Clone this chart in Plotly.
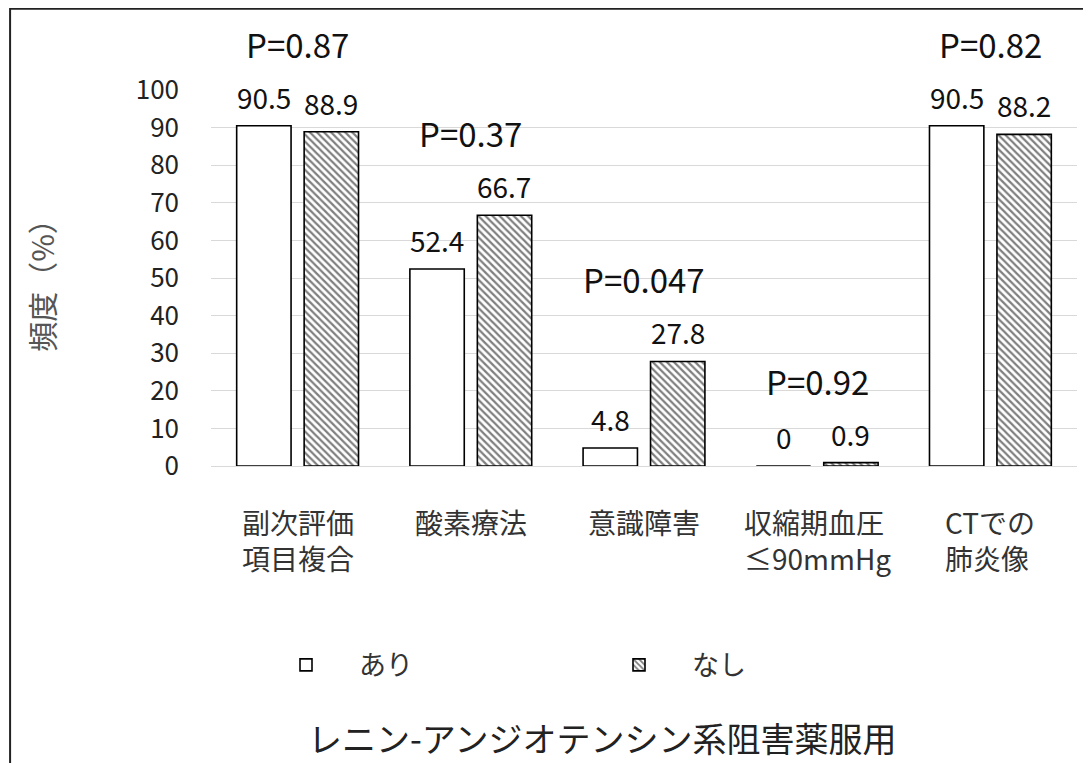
import plotly.graph_objects as go

categories = ["副次評価<br>項目複合", "酸素療法", "意識障害", "収縮期血圧<br>≤90mmHg", "CTでの<br>肺炎像"]
series_names = ["あり", "なし"]
ari_values = [90.5, 52.4, 4.8, 0, 90.5]
nashi_values = [88.9, 66.7, 27.8, 0.9, 88.2]
p_labels = ["P=0.87", "P=0.37", "P=0.047", "P=0.92", "P=0.82"]
y_ticks = [0, 10, 20, 30, 40, 50, 60, 70, 80, 90, 100]

FONT = "Noto Sans CJK JP"

fig = go.Figure()
fig.add_trace(go.Bar(
    x=categories, y=ari_values, name=series_names[0],
    marker=dict(color="white", line=dict(color="black", width=1.6)),
))
fig.add_trace(go.Bar(
    x=categories, y=nashi_values, name=series_names[1],
    marker=dict(color="white", line=dict(color="black", width=1.6),
                pattern=dict(shape="\\", fgcolor="black", bgcolor="white", size=5, solidity=0.45)),
))

annotations = []
for cat, a, n, p in zip(categories, ari_values, nashi_values, p_labels):
    for val, xs in ((a, -33.5), (n, 33.5)):
        annotations.append(dict(x=cat, y=val, xref="x", yref="y", text=f"{val:g}",
                                showarrow=False, xshift=xs, yshift=29, yanchor="middle",
                                font=dict(family=FONT, size=28, color="#111")))
    annotations.append(dict(x=cat, y=max(a, n), xref="x", yref="y", text=p,
                            showarrow=False, yshift=82, yanchor="middle",
                            font=dict(family=FONT, size=33, color="#111")))
    annotations.append(dict(x=cat, y=-0.09, xref="x", yref="paper", text=cat,
                            showarrow=False, yanchor="top", align="left",
                            font=dict(family=FONT, size=28, color="#333")))

annotations.append(dict(x=0.4515, y=-0.723, xref="paper", yref="paper",
                        text="レニン-アンジオテンシン系阻害薬服用", showarrow=False,
                        yanchor="middle", font=dict(family=FONT, size=34, color="#222")))

fig.update_layout(
    width=1083, height=755,
    margin=dict(l=203, r=14, t=82, b=297),
    paper_bgcolor="white", plot_bgcolor="white",
    barmode="group", bargap=0.221, bargroupgap=0.194,
    font=dict(family=FONT, color="#222"),
    showlegend=True,
    legend=dict(orientation="h", x=0.0485, y=-0.53, xanchor="left", yanchor="middle",
                entrywidth=222, entrywidthmode="pixels", itemwidth=96,
                font=dict(family=FONT, size=27, color="#333")),
    annotations=annotations,
    shapes=[dict(type="rect", xref="paper", yref="paper", x0=-0.232, x1=1.03,
                 y0=-0.85, y1=1.216, line=dict(color="#222", width=2), layer="below")],
)
fig.update_xaxes(showticklabels=False, showgrid=False, showline=False, zeroline=False,
                 range=[-0.5, 4.5])
fig.update_yaxes(range=[0, 100], tickvals=y_ticks, showgrid=True, gridcolor="#d9d9d9",
                 gridwidth=1, zeroline=True, zerolinecolor="#d9d9d9", zerolinewidth=1,
                 showline=False, ticks="", ticklabelstandoff=31,
                 tickfont=dict(family=FONT, size=26, color="#222"),
                 title=dict(text="頻度（%）", standoff=72,
                            font=dict(family=FONT, size=30, color="#555")))

fig.write_html("out.html")
